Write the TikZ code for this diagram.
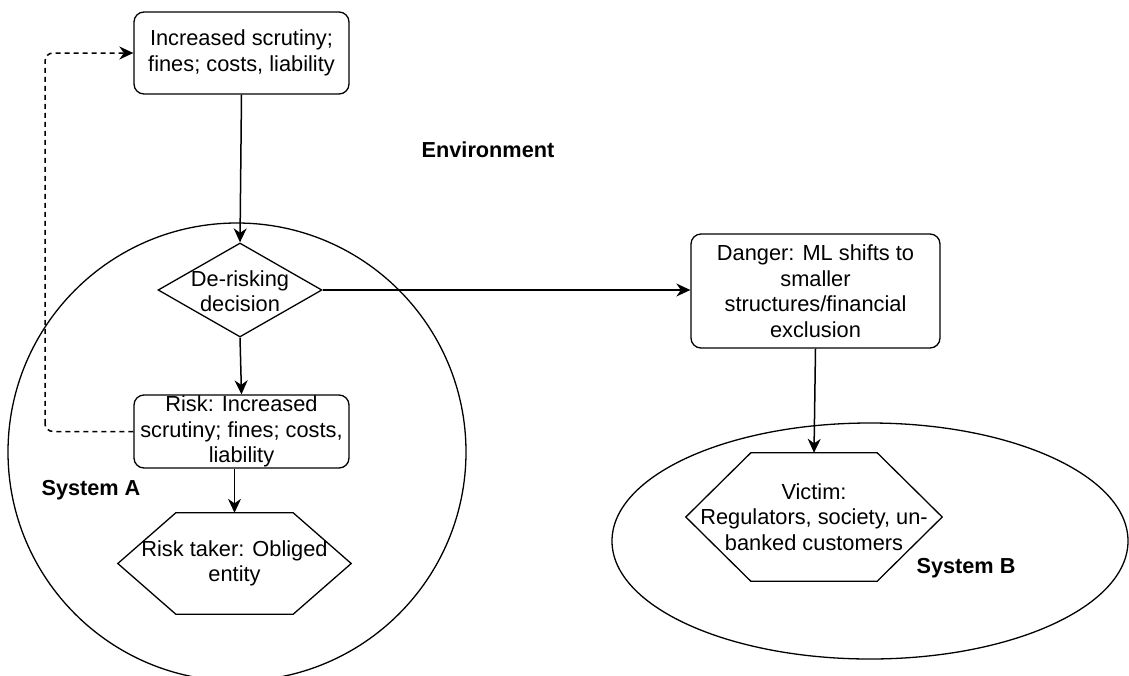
\documentclass[tikz,border=0pt]{standalone}
\usepackage{fontspec}
\setmainfont{Liberation Sans}
\usetikzlibrary{shapes.geometric,arrows.meta,calc}
\begin{document}
\begin{tikzpicture}[x=1pt,y=-1pt,
  every node/.style={font=\fontsize{21.8pt}{25.5pt}\selectfont, align=center, inner sep=0pt},
  shp/.style={draw, line width=1.3pt},
  rbox/.style={shp, rectangle, rounded corners=10pt},
  hexbox/.style={rectangle},
  lbl/.style={font=\fontsize{21.7pt}{25pt}\selectfont\bfseries},
  arr/.style={line width=1.5pt, -{Stealth[length=14pt,width=13pt,inset=4.5pt]}},
  darr/.style={arr, dashed, dash pattern=on 5pt off 4pt, rounded corners=8pt}
]
\useasboundingbox (0,0) rectangle (1129,675);
\clip (0,0) rectangle (1129,675);

% systems
\node[shp, circle, minimum size=458pt] (sysA) at (237,452) {};
\node[shp, ellipse, minimum width=516pt, minimum height=236pt] (sysB) at (870,541) {};

% nodes
\node[rbox, minimum width=215pt, minimum height=82pt] (top) at (241.5,53) {Increased scrutiny;\\fines; costs, liability};
\node[shp, diamond, minimum width=164pt, minimum height=94pt] (dec) at (240,290) {};
\node (dectxt) at (240,291) {De-risking\\decision};
\node[rbox, minimum width=215pt, minimum height=73pt] (risk) at (241.5,431.5) {Risk: Increased\\scrutiny; fines; costs,\\liability};
\node[hexbox, minimum width=233pt, minimum height=101pt] (taker) at (234.5,563.5) {Risk taker: Obliged\\entity};
\draw[shp] (taker.west) -- ($(taker.north west)+(58,0)$) -- ($(taker.north east)+(-58,0)$) -- (taker.east)
  -- ($(taker.south east)+(-58,0)$) -- ($(taker.south west)+(58,0)$) -- cycle;

\node[rbox, minimum width=249pt, minimum height=114pt] (danger) at (815.5,291) {Danger: ML shifts to\\smaller\\structures/financial\\exclusion};
\node[hexbox, minimum width=256pt, minimum height=128pt] (victim) at (814,517) {Victim:\\Regulators, society, un-\\banked customers};
\draw[shp] (victim.west) -- ($(victim.north west)+(65,0)$) -- ($(victim.north east)+(-65,0)$) -- (victim.east)
  -- ($(victim.south east)+(-65,0)$) -- ($(victim.south west)+(65,0)$) -- cycle;

% labels
\node[lbl] (env) at (488,150) {Environment};
\node[lbl] (sa) at (91,490) {System A};
\node[lbl] (sb) at (966,568) {System B};

% connectors
\draw[arr] (top.south) -- (dec.north);
\draw[arr] (dec.south) -- (risk.north);
\draw[arr] (taker.north |- risk.south) -- (taker.north);
\draw[arr] (dec.east) -- (dec.east -| danger.west);
\draw[arr] (danger.south) -- (victim.north);
\coordinate (dashx) at (45,431.5);
\draw[darr] (risk.west) -| (dashx) |- (top.west);
\end{tikzpicture}
\end{document}
